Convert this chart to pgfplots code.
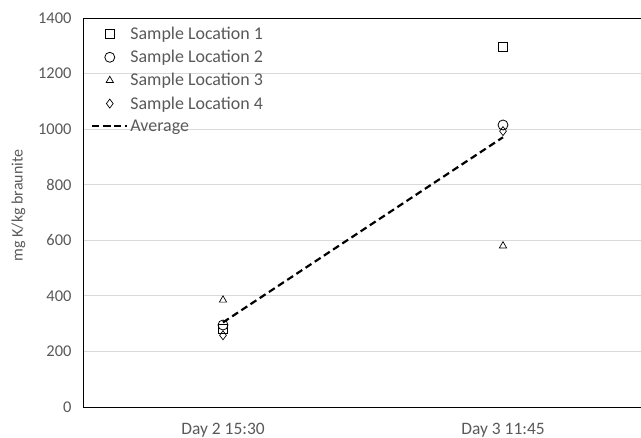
\documentclass[border=0pt]{standalone}
\usepackage{pgfplots}
\pgfplotsset{compat=1.18}
\usepackage{fontspec}
\setmainfont{Carlito}
\definecolor{txt}{HTML}{595959}
\definecolor{grd}{HTML}{D9D9D9}
\pgfplotsset{myleg/.style={legend image code/.code={\draw[mark repeat=2,mark phase=2,##1] plot coordinates {(0bp,0bp) (17.5bp,0bp) (35bp,0bp)};}}}
\begin{document}
\begin{tikzpicture}
\begin{axis}[
  scale only axis, width=560bp, height=389bp,
  xmin=-0.5, xmax=1.5, ymin=0, ymax=1400,
  xtick={0,1}, xticklabels={Day 2 15:30, Day 3 11:45},
  ytick={0,200,...,1400},
  major tick length=0pt,
  ymajorgrids, grid style={grd, line width=0.8pt},
  axis line style={black, line width=0.8pt},
  tick label style={text=txt},
  xticklabel style={font=\fontsize{17.5}{19}\selectfont, yshift=-13bp},
  yticklabel style={font=\fontsize{16.5}{19}\selectfont, xshift=-8bp},
  /pgf/number format/assume math mode=true,
  /pgf/number format/1000 sep={},
  ylabel={mg K/kg braunite},
  ylabel style={font=\fontsize{16}{18}\selectfont, text=txt, at={(axis description cs:0,0.5)}, anchor=south, xshift=7bp, yshift=54bp},
  legend style={draw=none, fill=none, at={(axis description cs:0,1)}, anchor=north west, xshift=5bp, yshift=-5bp,
    font=\fontsize{18}{20}\selectfont, text=txt, row sep=5.2bp, cells={anchor=west}},
  legend cell align=left,
]
\addplot[only marks, mark=square, mark size=4.5bp, black, line width=0.8pt, myleg] coordinates {(0,280) (1,1295)};
\addlegendentry{Sample Location 1}
\addplot[only marks, mark=o, mark size=5bp, black, line width=0.8pt, myleg] coordinates {(0,295) (1,1015)};
\addlegendentry{Sample Location 2}
\addplot[only marks, mark=triangle, mark size=4.2bp, black, line width=0.7pt, myleg] coordinates {(0,385) (1,580)};
\addlegendentry{Sample Location 3}
\addplot[only marks, mark=diamond, mark size=4.5bp, black, line width=0.7pt, myleg] coordinates {(0,258) (1,993)};
\addlegendentry{Sample Location 4}
\addplot[black, line width=2.2pt, dash pattern=on 7bp off 4bp, mark=none, myleg] coordinates {(0,304.5) (1,970.75)};
\addlegendentry{Average}
\end{axis}
\pgfresetboundingbox
\path[use as bounding box] ([shift={(-83bp,-31bp)}]current axis.south west) rectangle ([shift={(-2bp,18bp)}]current axis.north east);
\end{tikzpicture}
\end{document}
